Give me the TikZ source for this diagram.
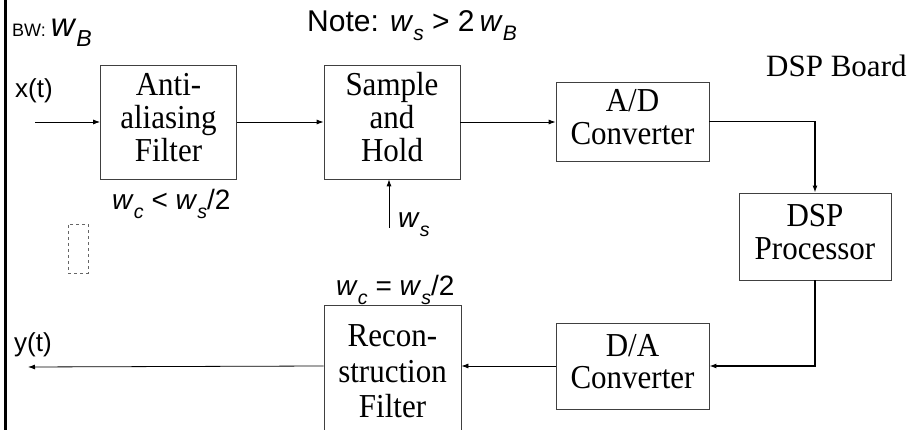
\documentclass[tikz,border=0pt]{standalone}
\usepackage{fontspec}
\setmainfont{Liberation Serif}
\newfontfamily\arialfont{Liberation Sans}
\usetikzlibrary{arrows.meta}
\newcommand{\boxtext}[1]{\scalebox{1}[1.08]{\begin{tabular}{@{}c@{}}#1\end{tabular}}}
\newcommand{\wsub}[1]{\textit{w}\raisebox{-0.3em}{\scalebox{0.7}{\textit{#1}}}}
\begin{document}
\begin{tikzpicture}[x=1pt, y=-1pt,
  block/.style={draw=black!75, line width=0.8pt, align=center, inner sep=0pt, font=\fontsize{31}{30}\selectfont},
  sig/.style={-{Latex[length=7pt,width=5pt]}, line width=0.8pt},
  bus/.style={-{Latex[length=7pt,width=5pt]}, line width=1.6pt},
  lbl/.style={font=\arialfont\fontsize{26}{26}\selectfont, inner sep=0pt, anchor=base west}]
  \useasboundingbox (0,0) rectangle (913,430);
  \clip (0,0) rectangle (913,430);
  \draw[line width=3pt] (5,0) -- (5,430);
  % blocks
  \node[block, minimum width=136pt, minimum height=114pt] (anti) at (168.5,122) {\boxtext{Anti-\\aliasing\\Filter}};
  \node[block, minimum width=136pt, minimum height=114pt] (sample) at (392,122) {\boxtext{Sample\\and\\Hold}};
  \node[block, minimum width=153pt, minimum height=79pt] (adc) at (632.5,121.5) {\boxtext{A/D\\Converter}};
  \node[block, minimum width=152pt, minimum height=87pt] (dsp) at (815,236.5) {\boxtext{DSP\\Processor}};
  \node[block, minimum width=153pt, minimum height=86pt] (dac) at (632.5,366) {\boxtext{D/A\\Converter}};
  \node[block, minimum width=137pt, minimum height=140pt, font=\fontsize{31}{33}\selectfont] (recon) at (392.5,375) {\boxtext{Recon-\\struction\\Filter}};
  \node[draw=black!60, dashed, line width=0.6pt, minimum width=20pt, minimum height=49pt, inner sep=0pt] (spare) at (78,248.5) {};
  % labels
  \node[lbl] (xin) at (15,98) {x(t)};
  \node[lbl] (yout) at (14,352) {y(t)};
  \node[lbl, font=\arialfont\fontsize{18}{18}\selectfont] (bw) at (12,37) {BW: {\fontsize{33}{33}\selectfont\wsub{B}}};
  \node[lbl, font=\arialfont\fontsize{30}{30}\selectfont] (note) at (307,32) {Note: \wsub{s} > 2\,\wsub{B}};
  \node[anchor=base west, inner sep=0pt, font=\fontsize{31}{31}\selectfont] (board) at (766,77) {DSP Board};
  \node[lbl, font=\arialfont\fontsize{28}{28}\selectfont] (aacut) at (112,210) {\wsub{c} < \wsub{s}/2};
  \node[lbl, font=\arialfont\fontsize{28}{28}\selectfont] (wslbl) at (398,228) {\wsub{s}};
  \node[lbl, font=\arialfont\fontsize{28}{28}\selectfont] (rccut) at (336,296) {\wsub{c} = \wsub{s}/2};
  % connectors
  \coordinate (xstart) at (35,122);
  \coordinate (yend) at (28,367);
  \coordinate (wsin) at (389,228);
  \draw[sig] (xstart) -- (xstart -| anti.west);
  \draw[sig] (anti) -- (sample);
  \draw[sig] (sample.east) -- (sample.east -| adc.west);
  \draw[bus] (adc.east) -| (dsp.north);
  \draw[bus] (dsp.south) |- (dac.east);
  \draw[sig] (dac.west) -- (dac.west -| recon.east);
  \draw[sig] (dac.west -| recon.west) -- (yend);
  \draw[sig] (wsin) -- (wsin |- sample.south);
\end{tikzpicture}
\end{document}
